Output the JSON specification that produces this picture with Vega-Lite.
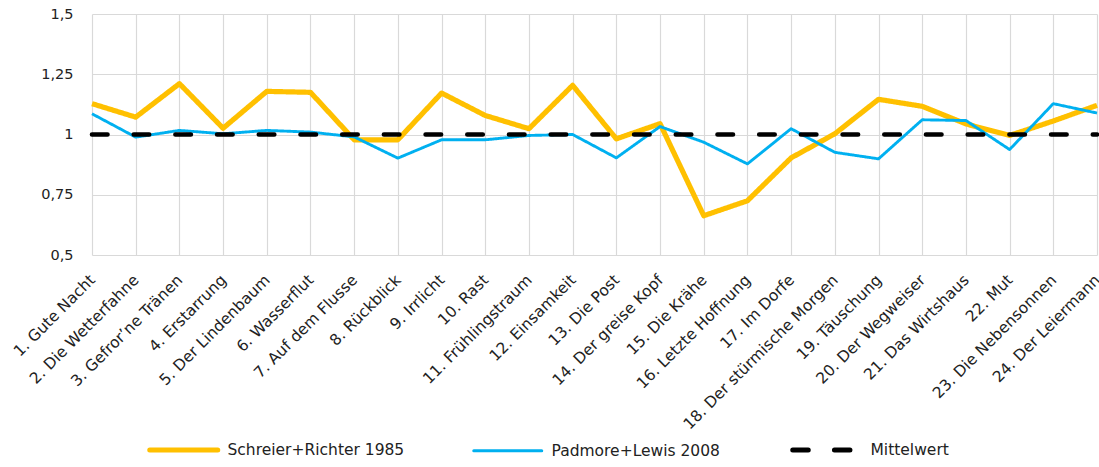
{
  "$schema": "https://vega.github.io/schema/vega-lite/v6.json",
  "width": 1005,
  "height": 241,
  "autosize": {"type": "none"},
  "padding": {"left": 92, "top": 14, "right": 2, "bottom": 212},
  "background": "white",
  "config": {
    "view": {"stroke": null},
    "font": "DejaVu Sans",
    "axis": {
      "domain": false,
      "ticks": false,
      "tickSize": 0,
      "grid": true,
      "gridColor": "#D9D9D9",
      "gridWidth": 1.2,
      "labelFont": "DejaVu Sans",
      "labelFontSize": 14.5,
      "labelColor": "#222222",
      "title": null
    },
    "legend": {
      "labelFont": "DejaVu Sans",
      "labelFontSize": 15.5,
      "labelColor": "#222222",
      "labelLimit": 400
    }
  },
  "data": {
    "values": [
      {"song": "1. Gute Nacht", "series": "Schreier+Richter 1985", "value": 1.128},
      {"song": "2. Die Wetterfahne", "series": "Schreier+Richter 1985", "value": 1.072},
      {"song": "3. Gefror’ne Tränen", "series": "Schreier+Richter 1985", "value": 1.211},
      {"song": "4. Erstarrung", "series": "Schreier+Richter 1985", "value": 1.026},
      {"song": "5. Der Lindenbaum", "series": "Schreier+Richter 1985", "value": 1.179},
      {"song": "6. Wasserflut", "series": "Schreier+Richter 1985", "value": 1.175},
      {"song": "7. Auf dem Flusse", "series": "Schreier+Richter 1985", "value": 0.978},
      {"song": "8. Rückblick", "series": "Schreier+Richter 1985", "value": 0.978},
      {"song": "9. Irrlicht", "series": "Schreier+Richter 1985", "value": 1.172},
      {"song": "10. Rast", "series": "Schreier+Richter 1985", "value": 1.079},
      {"song": "11. Frühlingstraum", "series": "Schreier+Richter 1985", "value": 1.024},
      {"song": "12. Einsamkeit", "series": "Schreier+Richter 1985", "value": 1.204},
      {"song": "13. Die Post", "series": "Schreier+Richter 1985", "value": 0.982},
      {"song": "14. Der greise Kopf", "series": "Schreier+Richter 1985", "value": 1.045},
      {"song": "15. Die Krähe", "series": "Schreier+Richter 1985", "value": 0.663},
      {"song": "16. Letzte Hoffnung", "series": "Schreier+Richter 1985", "value": 0.725},
      {"song": "17. Im Dorfe", "series": "Schreier+Richter 1985", "value": 0.903},
      {"song": "18. Der stürmische Morgen", "series": "Schreier+Richter 1985", "value": 1.003},
      {"song": "19. Täuschung", "series": "Schreier+Richter 1985", "value": 1.146},
      {"song": "20. Der Wegweiser", "series": "Schreier+Richter 1985", "value": 1.117},
      {"song": "21. Das Wirtshaus", "series": "Schreier+Richter 1985", "value": 1.044},
      {"song": "22. Mut", "series": "Schreier+Richter 1985", "value": 0.996},
      {"song": "23. Die Nebensonnen", "series": "Schreier+Richter 1985", "value": 1.056},
      {"song": "24. Der Leiermann", "series": "Schreier+Richter 1985", "value": 1.121},
      {"song": "1. Gute Nacht", "series": "Padmore+Lewis 2008", "value": 1.086},
      {"song": "2. Die Wetterfahne", "series": "Padmore+Lewis 2008", "value": 0.989},
      {"song": "3. Gefror’ne Tränen", "series": "Padmore+Lewis 2008", "value": 1.017},
      {"song": "4. Erstarrung", "series": "Padmore+Lewis 2008", "value": 1.003},
      {"song": "5. Der Lindenbaum", "series": "Padmore+Lewis 2008", "value": 1.017},
      {"song": "6. Wasserflut", "series": "Padmore+Lewis 2008", "value": 1.01},
      {"song": "7. Auf dem Flusse", "series": "Padmore+Lewis 2008", "value": 0.99},
      {"song": "8. Rückblick", "series": "Padmore+Lewis 2008", "value": 0.902},
      {"song": "9. Irrlicht", "series": "Padmore+Lewis 2008", "value": 0.978},
      {"song": "10. Rast", "series": "Padmore+Lewis 2008", "value": 0.978},
      {"song": "11. Frühlingstraum", "series": "Padmore+Lewis 2008", "value": 0.996},
      {"song": "12. Einsamkeit", "series": "Padmore+Lewis 2008", "value": 1.0},
      {"song": "13. Die Post", "series": "Padmore+Lewis 2008", "value": 0.903},
      {"song": "14. Der greise Kopf", "series": "Padmore+Lewis 2008", "value": 1.033},
      {"song": "15. Die Krähe", "series": "Padmore+Lewis 2008", "value": 0.968},
      {"song": "16. Letzte Hoffnung", "series": "Padmore+Lewis 2008", "value": 0.878},
      {"song": "17. Im Dorfe", "series": "Padmore+Lewis 2008", "value": 1.024},
      {"song": "18. Der stürmische Morgen", "series": "Padmore+Lewis 2008", "value": 0.926},
      {"song": "19. Täuschung", "series": "Padmore+Lewis 2008", "value": 0.899},
      {"song": "20. Der Wegweiser", "series": "Padmore+Lewis 2008", "value": 1.061},
      {"song": "21. Das Wirtshaus", "series": "Padmore+Lewis 2008", "value": 1.058},
      {"song": "22. Mut", "series": "Padmore+Lewis 2008", "value": 0.9375},
      {"song": "23. Die Nebensonnen", "series": "Padmore+Lewis 2008", "value": 1.128},
      {"song": "24. Der Leiermann", "series": "Padmore+Lewis 2008", "value": 1.089},
      {"song": "1. Gute Nacht", "series": "Mittelwert", "value": 1},
      {"song": "2. Die Wetterfahne", "series": "Mittelwert", "value": 1},
      {"song": "3. Gefror’ne Tränen", "series": "Mittelwert", "value": 1},
      {"song": "4. Erstarrung", "series": "Mittelwert", "value": 1},
      {"song": "5. Der Lindenbaum", "series": "Mittelwert", "value": 1},
      {"song": "6. Wasserflut", "series": "Mittelwert", "value": 1},
      {"song": "7. Auf dem Flusse", "series": "Mittelwert", "value": 1},
      {"song": "8. Rückblick", "series": "Mittelwert", "value": 1},
      {"song": "9. Irrlicht", "series": "Mittelwert", "value": 1},
      {"song": "10. Rast", "series": "Mittelwert", "value": 1},
      {"song": "11. Frühlingstraum", "series": "Mittelwert", "value": 1},
      {"song": "12. Einsamkeit", "series": "Mittelwert", "value": 1},
      {"song": "13. Die Post", "series": "Mittelwert", "value": 1},
      {"song": "14. Der greise Kopf", "series": "Mittelwert", "value": 1},
      {"song": "15. Die Krähe", "series": "Mittelwert", "value": 1},
      {"song": "16. Letzte Hoffnung", "series": "Mittelwert", "value": 1},
      {"song": "17. Im Dorfe", "series": "Mittelwert", "value": 1},
      {"song": "18. Der stürmische Morgen", "series": "Mittelwert", "value": 1},
      {"song": "19. Täuschung", "series": "Mittelwert", "value": 1},
      {"song": "20. Der Wegweiser", "series": "Mittelwert", "value": 1},
      {"song": "21. Das Wirtshaus", "series": "Mittelwert", "value": 1},
      {"song": "22. Mut", "series": "Mittelwert", "value": 1},
      {"song": "23. Die Nebensonnen", "series": "Mittelwert", "value": 1},
      {"song": "24. Der Leiermann", "series": "Mittelwert", "value": 1}
    ]
  },
  "encoding": {
    "x": {
      "field": "song",
      "type": "nominal",
      "sort": null,
      "scale": {"type": "point", "padding": 0},
      "axis": {
        "labelAngle": -45,
        "labelAlign": "right",
        "labelBaseline": "middle",
        "labelFontSize": 15.5,
        "labelPadding": 22,
        "labelDx": -5,
        "labelLimit": 400
      }
    },
    "y": {
      "field": "value",
      "type": "quantitative",
      "scale": {"domain": [0.5, 1.5], "nice": false, "zero": false},
      "axis": {
        "values": [0.5, 0.75, 1, 1.25, 1.5],
        "labelExpr": "replace(toString(datum.value), '.', ',')",
        "labelPadding": 19
      }
    },
    "color": {
      "field": "series",
      "type": "nominal",
      "scale": {
        "domain": ["Schreier+Richter 1985", "Padmore+Lewis 2008", "Mittelwert"],
        "range": ["#FFC000", "#00B0F0", "#000000"]
      },
      "legend": {
        "orient": "none",
        "direction": "horizontal",
        "legendX": 54,
        "legendY": 428,
        "title": null,
        "padding": 0,
        "symbolType": "M-1,0H16",
        "symbolSize": 64,
        "labelOffset": 66,
        "columnPadding": 62,
        "encode": {
          "symbols": {
            "update": {
              "strokeWidth": {"signal": "datum.value === 'Padmore+Lewis 2008' ? 3 : 5"},
              "strokeCap": {"value": "round"}
            }
          }
        }
      }
    },
    "strokeDash": {
      "field": "series",
      "type": "nominal",
      "scale": {
        "domain": ["Schreier+Richter 1985", "Padmore+Lewis 2008", "Mittelwert"],
        "range": [[1, 0], [1, 0], [15.5, 26.2]]
      }
    }
  },
  "layer": [
    {
      "transform": [{"filter": "datum.series === 'Schreier+Richter 1985'"}],
      "mark": {"type": "line", "strokeWidth": 5.2, "strokeJoin": "round"}
    },
    {
      "transform": [{"filter": "datum.series === 'Padmore+Lewis 2008'"}],
      "mark": {"type": "line", "strokeWidth": 2.9, "strokeJoin": "round"}
    },
    {
      "transform": [{"filter": "datum.series === 'Mittelwert'"}],
      "mark": {"type": "line", "strokeWidth": 4.6, "strokeCap": "round"}
    }
  ]
}
